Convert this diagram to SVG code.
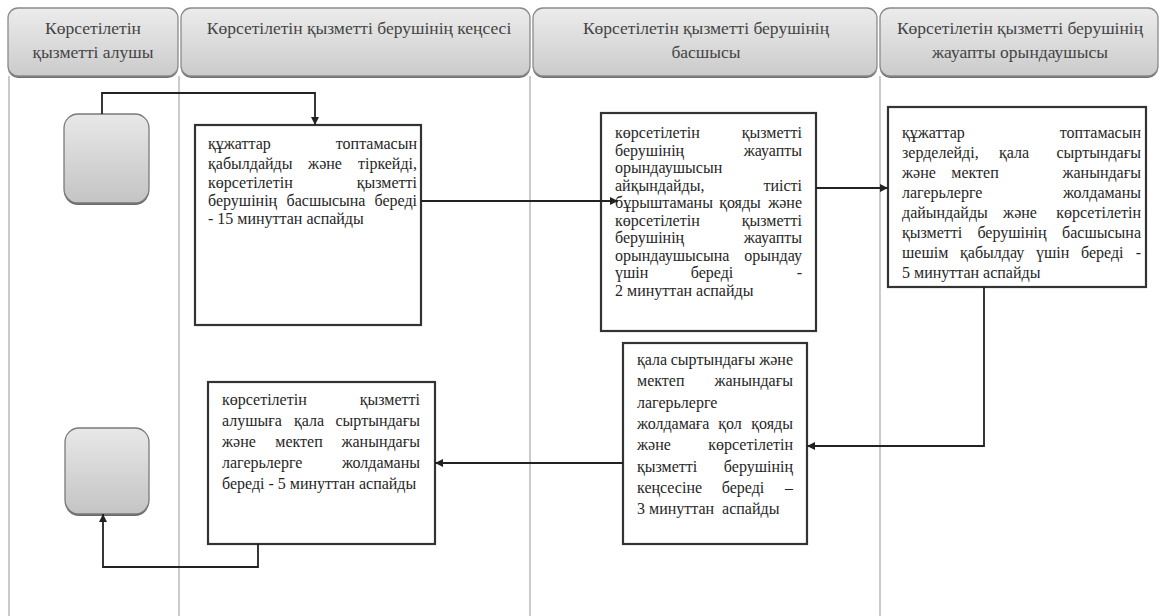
<svg xmlns="http://www.w3.org/2000/svg" width="1161" height="616" viewBox="0 0 1161 616">
<defs>
<linearGradient id="hg" x1="0" y1="0" x2="0" y2="1"><stop offset="0" stop-color="#ececec"/><stop offset="1" stop-color="#cbcbcb"/></linearGradient>
<linearGradient id="ng" x1="0" y1="0" x2="0" y2="1"><stop offset="0" stop-color="#e8e8e8"/><stop offset="1" stop-color="#c4c4c4"/></linearGradient>
<marker id="ah" viewBox="0 0 10 10" refX="10" refY="5" markerWidth="8" markerHeight="8" markerUnits="userSpaceOnUse" orient="auto"><path d="M0,0 L10,5 L0,10 z" fill="#222"/></marker>
<style>
.hdr{fill:url(#hg);stroke:#8a8a8a;stroke-width:1.3}
.hsh{fill:#6e6e6e}
.ht{font-family:"Liberation Serif","Times New Roman",serif;font-size:17.5px;fill:#444;text-anchor:middle}
.lane{stroke:#a8a8a8;stroke-width:1.2;fill:none}
.box{fill:#fff;stroke:#333;stroke-width:2.2}
.node{fill:url(#ng);stroke:#7a7a7a;stroke-width:1.3}
.nsh{fill:#6a6a6a}
.t{font-family:"Liberation Serif","Times New Roman",serif;font-size:16px;fill:#262626}
.e{text-anchor:end}
.m{text-anchor:middle}
.c{stroke:#222;stroke-width:1.8;fill:none;marker-end:url(#ah)}
</style>
</defs>
<rect width="1161" height="616" fill="#fff"/>

<g id="lanes">
<path class="lane" d="M9,76V616M179,76V616M530,76V616M880,76V616"/>
</g>

<g id="header1">
<rect class="hsh" x="8" y="10" width="170" height="68" rx="10"/>
<rect class="hdr" x="8" y="8" width="170" height="68" rx="10"/>
<text class="ht" x="93" y="34">Көрсетілетін</text>
<text class="ht" x="93" y="58">қызметті алушы</text>
</g>
<g id="header2">
<rect class="hsh" x="181" y="10" width="349" height="68" rx="10"/>
<rect class="hdr" x="181" y="8" width="349" height="68" rx="10"/>
<text class="ht" x="359" y="34">Көрсетілетін қызметті берушінің кеңсесі</text>
</g>
<g id="header3">
<rect class="hsh" x="533" y="10" width="344" height="68" rx="10"/>
<rect class="hdr" x="533" y="8" width="344" height="68" rx="10"/>
<text class="ht" x="706" y="34">Көрсетілетін қызметті берушінің</text>
<text class="ht" x="706" y="58">басшысы</text>
</g>
<g id="header4">
<rect class="hsh" x="880" y="10" width="278" height="68" rx="10"/>
<rect class="hdr" x="880" y="8" width="278" height="68" rx="10"/>
<text class="ht" x="1020" y="34">Көрсетілетін қызметті берушінің</text>
<text class="ht" x="1020" y="58">жауапты орындаушысы</text>
</g>

<g id="start">
<rect class="nsh" x="64" y="116" width="85" height="89" rx="14"/>
<rect class="node" x="64" y="114" width="85" height="89" rx="14"/>
</g>
<g id="end">
<rect class="nsh" x="65" y="430" width="84" height="86" rx="14"/>
<rect class="node" x="65" y="428" width="84" height="86" rx="14"/>
</g>

<g id="box1">
<rect class="box" x="195" y="125" width="226" height="200"/>
<text class="t" x="208" y="149">құжаттар</text><text class="t e" x="417" y="149">топтамасын</text>
<text class="t" x="208" y="169">қабылдайды</text><text class="t m" x="325" y="169">және</text><text class="t e" x="417" y="169">тіркейді,</text>
<text class="t" x="208" y="188">көрсетілетін</text><text class="t e" x="417" y="188">қызметті</text>
<text class="t" x="208" y="206">берушінің</text><text class="t m" x="326" y="206">басшысына</text><text class="t e" x="417" y="206">береді</text>
<text class="t" x="208" y="224">- 15 минуттан аспайды</text>
</g>

<g id="box2">
<rect class="box" x="601" y="113" width="215" height="218"/>
<text class="t" x="615" y="138">көрсетілетін</text><text class="t e" x="802" y="138">қызметті</text>
<text class="t" x="615" y="155.5">берушінің</text><text class="t e" x="802" y="155.5">жауапты</text>
<text class="t" x="615" y="173">орындаушысын</text>
<text class="t" x="615" y="190.5">айқындайды,</text><text class="t e" x="802" y="190.5">тиісті</text>
<text class="t" x="615" y="208">бұрыштаманы</text><text class="t m" x="740" y="208">қояды</text><text class="t e" x="802" y="208">және</text>
<text class="t" x="615" y="225.5">көрсетілетін</text><text class="t e" x="802" y="225.5">қызметті</text>
<text class="t" x="615" y="243">берушінің</text><text class="t e" x="802" y="243">жауапты</text>
<text class="t" x="615" y="260.5">орындаушысына</text><text class="t e" x="802" y="260.5">орындау</text>
<text class="t" x="615" y="278">үшін</text><text class="t m" x="712" y="278">береді</text><text class="t e" x="802" y="278">-</text>
<text class="t" x="615" y="295.5">2 минуттан аспайды</text>
</g>

<g id="box3">
<rect class="box" x="888" y="107" width="258" height="180"/>
<text class="t" x="902" y="138">құжаттар</text><text class="t e" x="1141" y="138">топтамасын</text>
<text class="t" x="902" y="158">зерделейді,</text><text class="t m" x="1014" y="158">қала</text><text class="t e" x="1141" y="158">сыртындағы</text>
<text class="t" x="902" y="178">және</text><text class="t m" x="975" y="178">мектеп</text><text class="t e" x="1141" y="178">жанындағы</text>
<text class="t" x="902" y="198">лагерьлерге</text><text class="t e" x="1141" y="198">жолдаманы</text>
<text class="t" x="902" y="218">дайындайды</text><text class="t m" x="1020" y="218">және</text><text class="t e" x="1141" y="218">көрсетілетін</text>
<text class="t" x="902" y="238">қызметті</text><text class="t m" x="1012" y="238">берушінің</text><text class="t e" x="1141" y="238">басшысына</text>
<text class="t" x="902" y="258">шешім</text><text class="t" x="960" y="258">қабылдау</text><text class="t" x="1036" y="258">үшін</text><text class="t" x="1081" y="258">береді</text><text class="t e" x="1141" y="258">-</text>
<text class="t" x="902" y="278">5 минуттан аспайды</text>
</g>

<g id="box4">
<rect class="box" x="623" y="343" width="184" height="201"/>
<text class="t" x="637" y="365">қала</text><text class="t m" x="713" y="365">сыртындағы</text><text class="t e" x="793" y="365">және</text>
<text class="t" x="637" y="386.3">мектеп</text><text class="t e" x="793" y="386.3">жанындағы</text>
<text class="t" x="637" y="407.6">лагерьлерге</text>
<text class="t" x="637" y="428.9">жолдамаға</text><text class="t m" x="730" y="428.9">қол</text><text class="t e" x="793" y="428.9">қояды</text>
<text class="t" x="637" y="450.2">және</text><text class="t e" x="793" y="450.2">көрсетілетін</text>
<text class="t" x="637" y="471.5">қызметті</text><text class="t e" x="793" y="471.5">берушінің</text>
<text class="t" x="637" y="492.8">кеңсесіне</text><text class="t m" x="743" y="492.8">береді</text><text class="t e" x="793" y="492.8">–</text>
<text class="t" x="637" y="514.1" style="white-space:pre">3 минуттан  аспайды</text>
</g>

<g id="box5">
<rect class="box" x="208" y="382" width="227" height="162"/>
<text class="t" x="222" y="405">көрсетілетін</text><text class="t e" x="420" y="405">қызметті</text>
<text class="t" x="222" y="426">алушыға</text><text class="t m" x="309" y="426">қала</text><text class="t e" x="420" y="426">сыртындағы</text>
<text class="t" x="222" y="447">және</text><text class="t m" x="299" y="447">мектеп</text><text class="t e" x="420" y="447">жанындағы</text>
<text class="t" x="222" y="468">лагерьлерге</text><text class="t e" x="420" y="468">жолдаманы</text>
<text class="t" x="222" y="489">береді - 5 минуттан аспайды</text>
</g>

<g id="connectors">
<path class="c" d="M102,114V93H315V125"/>
<path class="c" d="M421,201H618"/>
<path class="c" d="M816,188H888"/>
<path class="c" d="M984,287V446H807"/>
<path class="c" d="M623,463H435"/>
<path class="c" d="M258,544V567H103V514"/>
</g>
</svg>
